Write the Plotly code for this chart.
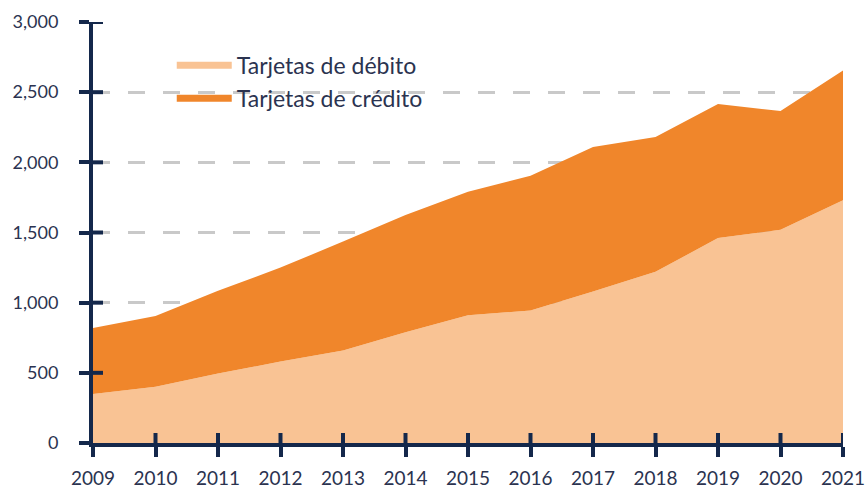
import plotly.graph_objects as go

# Annual card counts, 2009-2021
years = [2009, 2010, 2011, 2012, 2013, 2014, 2015, 2016, 2017, 2018, 2019, 2020, 2021]
debito = [350, 400, 495, 580, 660, 790, 910, 945, 1080, 1220, 1460, 1520, 1730]
credito = [470, 505, 590, 670, 775, 835, 880, 960, 1030, 960, 955, 845, 925]

y_ticks = [0, 500, 1000, 1500, 2000, 2500, 3000]
series_names = ["Tarjetas de débito", "Tarjetas de crédito"]

LIGHT = "#F9C394"
DARK = "#F0862B"
NAVY = "#14284B"
TEXT = "#2B3350"
FONT = "Lato, 'Open Sans', sans-serif"

fig = go.Figure()

# stacked areas
fig.add_trace(go.Scatter(x=years, y=debito, stackgroup="cards", mode="none",
                         fillcolor=LIGHT, name=series_names[0], showlegend=False))
fig.add_trace(go.Scatter(x=years, y=credito, stackgroup="cards", mode="none",
                         fillcolor=DARK, name=series_names[1], showlegend=False))

# legend entries drawn as thick lines
for name, col in zip(series_names, [LIGHT, DARK]):
    fig.add_trace(go.Scatter(x=[None], y=[None], mode="lines", name=name,
                             line=dict(color=col, width=7)))

# inner halves of the tick marks so they cross the axis lines
shapes = []
for v in y_ticks[1:]:
    shapes.append(dict(type="line", xref="paper", yref="y", x0=0, x1=10 / 750,
                       y0=v, y1=v, line=dict(color=NAVY, width=4), layer="above"))
for yr in years[1:]:
    shapes.append(dict(type="line", xref="x", yref="paper", x0=yr, x1=yr,
                       y0=0, y1=10 / 421, line=dict(color=NAVY, width=4), layer="above"))

fig.update_layout(
    width=867, height=489,
    margin=dict(l=93, r=24, t=22, b=46),
    paper_bgcolor="white", plot_bgcolor="white",
    font=dict(family=FONT, color=TEXT),
    shapes=shapes,
    legend=dict(x=0.105, y=0.948, xanchor="left", yanchor="top",
                traceorder="normal", itemwidth=55,
                bgcolor="rgba(0,0,0,0)", tracegroupgap=0,
                font=dict(size=23, color=TEXT, family=FONT)),
    xaxis=dict(range=[2009, 2021], tickvals=years, ticktext=[str(y) for y in years],
               showgrid=False, zeroline=False, automargin=False,
               showline=True, linecolor=NAVY, linewidth=4,
               ticks="outside", ticklen=10, tickwidth=4, tickcolor=NAVY,
               ticklabelstandoff=5,
               tickfont=dict(size=19, color=TEXT, family=FONT)),
    yaxis=dict(range=[0, 3000], tickvals=y_ticks, tickformat=",",
               showgrid=True, gridcolor="#C9C9C9", gridwidth=3, griddash="17px,18px",
               zeroline=False, automargin=False,
               showline=True, linecolor=NAVY, linewidth=4,
               ticks="outside", ticklen=10, tickwidth=4, tickcolor=NAVY,
               ticklabelstandoff=17,
               tickfont=dict(size=18, color=TEXT, family=FONT)),
)

fig.write_html("out.html")
